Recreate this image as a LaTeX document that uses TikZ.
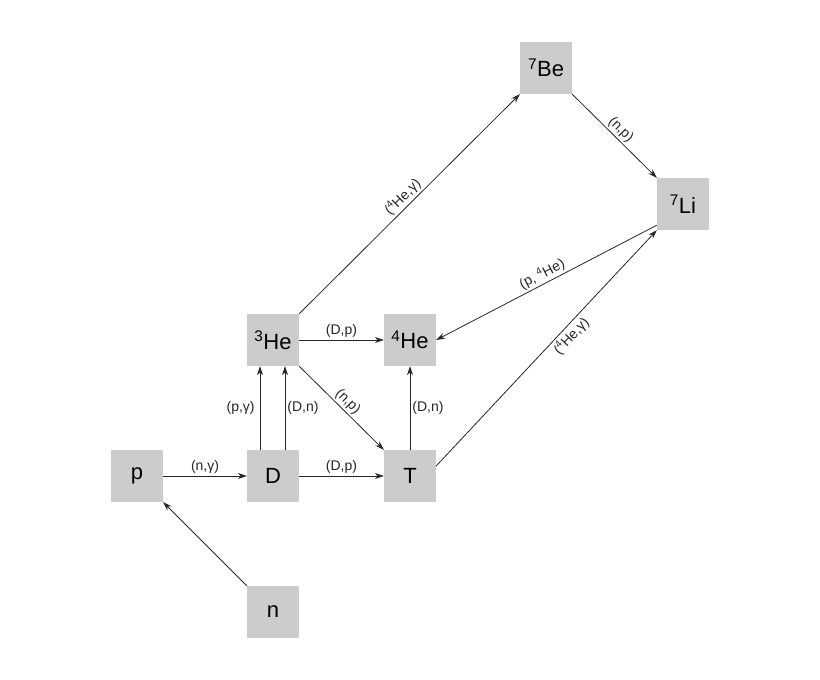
\documentclass[tikz,border=0pt]{standalone}
\usepackage{fontspec}
\setmainfont{Liberation Sans}
\usetikzlibrary{arrows.meta}
\newcommand{\su}[1]{\textsuperscript{#1}}
\begin{document}
\begin{tikzpicture}[x=1pt,y=-1pt,
  nuc/.style={fill=black!20,minimum size=52pt,inner sep=0pt,font=\fontsize{22}{22}\selectfont},
  rx/.style={-{Stealth[length=9pt,width=6pt]},black!85,line width=0.8pt},
  lb/.style={font=\fontsize{14}{14}\selectfont,inner sep=2pt}]
\useasboundingbox (0,0) rectangle (820,680);
\node[nuc] (be) at (546,68) {\su{7}Be};
\node[nuc] (li) at (683,204) {\su{7}Li};
\node[nuc] (he3) at (273,340) {\su{3}He};
\node[nuc] (he4) at (410,340) {\su{4}He};
\node[nuc] (p) at (137,476) {p};
\node[nuc] (d) at (273,476) {D};
\node[nuc] (t) at (410,476) {T};
\node[nuc] (n) at (273,612) {n};
\draw[rx] (p) -- node[lb,above]{(n,γ)} (d);
\draw[rx] (d) -- node[lb,above]{(D,p)} (t);
\draw[rx] (he3) -- node[lb,above]{(D,p)} (he4);
\draw[rx] ([xshift=-13pt]d.north) -- node[lb,left,xshift=-3pt]{(p,γ)} ([xshift=-13pt]he3.south);
\draw[rx] ([xshift=12pt]d.north) -- node[lb,right]{(D,n)} ([xshift=12pt]he3.south);
\draw[rx] (t) -- node[lb,right]{(D,n)} (he4);
\draw[rx] (he3.south east) -- node[lb,above,sloped]{(n,p)} (t.north west);
\draw[rx] (he3.north east) -- node[lb,above,sloped,pos=0.5]{(\su{4}He,γ)} (be.south west);
\draw[rx] (be.south east) -- node[lb,above,sloped]{(n,p)} (li.north west);
\draw[rx] ([yshift=5pt]li.south west) -- node[lb,above,sloped]{(p, \su{4}He)} (he4.east);
\draw[rx] ([yshift=10pt]t.east) -- node[lb,below,sloped,pos=0.58]{(\su{4}He,γ)} (li.south west);
\draw[rx] (n.north west) -- (p.south east);
\end{tikzpicture}
\end{document}
